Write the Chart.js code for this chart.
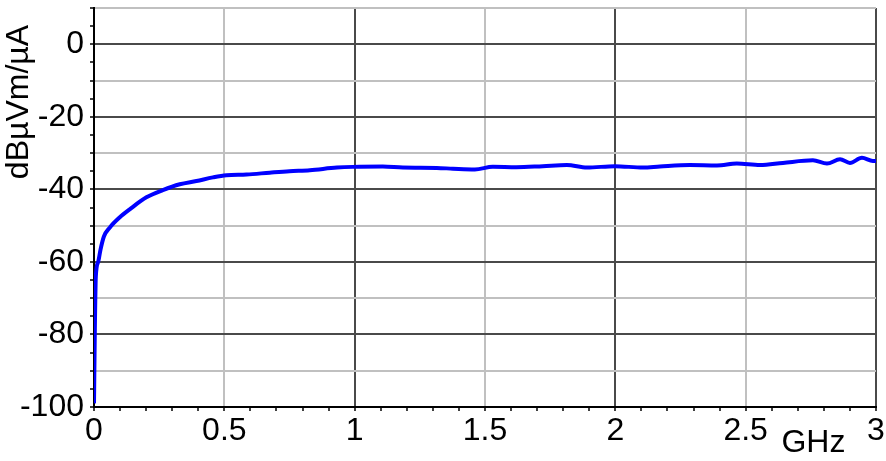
<!DOCTYPE html>
<html>
<head>
<meta charset="utf-8">
<script src="https://cdn.jsdelivr.net/npm/chart.js@4/dist/chart.umd.min.js"></script>
<style>
  html, body { margin: 0; padding: 0; background: #fff; }
  #wrap { width: 886px; height: 461px; position: relative; }
</style>
</head>
<body>
<div id="wrap"><canvas id="chart"></canvas></div>
<script>
// frequency in GHz, level in dBuV/m/uA
const freqGHz = [0, 0.003, 0.007, 0.016, 0.025, 0.038, 0.061, 0.099, 0.137, 0.201,
  0.264, 0.329, 0.393, 0.456, 0.508, 0.585, 0.674, 0.75, 0.828, 0.932,
  0.993, 1.108, 1.185, 1.315, 1.377, 1.461, 1.53, 1.62, 1.722, 1.814,
  1.891, 1.998, 2.106, 2.171, 2.286, 2.39, 2.466, 2.555, 2.643, 2.758,
  2.812, 2.862, 2.9, 2.946, 2.988, 3.0];
const levelDb = [-99, -80, -64, -60, -56.6, -53, -50.5, -47.7, -45.5, -42.2,
  -40.2, -38.6, -37.7, -36.7, -36.1, -35.9, -35.4, -35.0, -34.7, -34.0,
  -33.8, -33.7, -34.0, -34.1, -34.3, -34.5, -33.8, -33.9, -33.6, -33.3,
  -34.0, -33.6, -34.0, -33.7, -33.3, -33.4, -32.9, -33.3, -32.7, -32.0,
  -32.9, -31.7, -32.7, -31.3, -32.2, -32.2];

const xLabelEvery = 0.5;
const yLabelEvery = 20;
const yTitle = 'dBµVm/µA';
const xTitle = 'GHz';

const FONT = "'Liberation Sans', Arial, sans-serif";
const DARK = '#4a4a4a';
const LIGHT = '#c0c0c0';

function isMult(v, step) {
  const r = v / step;
  return Math.abs(r - Math.round(r)) < 1e-6;
}

const titles = {
  id: 'titles',
  afterDraw(chart) {
    const { ctx, chartArea, scales } = chart;
    ctx.save();
    ctx.fillStyle = '#000';
    ctx.font = `32px ${FONT}`;
    ctx.textAlign = 'center';
    ctx.textBaseline = 'alphabetic';
    ctx.fillText(xTitle, scales.x.getPixelForValue(2.76), chartArea.bottom + 45);
    ctx.translate(19, chartArea.top + 94);
    ctx.rotate(-Math.PI / 2);
    ctx.textBaseline = 'middle';
    ctx.fillText(yTitle, 0, 0);
    ctx.restore();
  },
};

new Chart(document.getElementById('chart').getContext('2d'), {
  type: 'line',
  data: {
    datasets: [{
      data: freqGHz.map((f, i) => ({ x: f, y: levelDb[i] })),
      borderColor: '#0000ff',
      borderWidth: 4,
      pointRadius: 0,
      cubicInterpolationMode: 'monotone',
      fill: false,
    }],
  },
  options: {
    responsive: true,
    maintainAspectRatio: false,
    animation: false,
    layout: { padding: { top: 8, right: 10, left: 0, bottom: 0 } },
    plugins: { legend: { display: false }, tooltip: { enabled: false } },
    scales: {
      x: {
        type: 'linear',
        min: 0,
        max: 3,
        afterFit(s) { s.height = 54; s.paddingLeft = 0; s.paddingRight = 0; },
        border: { color: '#000', width: 2 },
        grid: {
          lineWidth: 2,
          tickLength: 4,
          tickWidth: 1.5,
          tickColor: '#000',
          color: (c) => {
            const v = c.tick ? c.tick.value : 0;
            if (isMult(v, 1)) return DARK;
            if (isMult(v, xLabelEvery)) return LIGHT;
            return 'rgba(0,0,0,0)';
          },
        },
        ticks: {
          stepSize: 0.1,
          autoSkip: false,
          maxRotation: 0,
          padding: 1,
          color: '#000',
          font: { family: FONT, size: 32 },
          callback: (v) => (isMult(v, xLabelEvery) ? String(Math.round(v * 10) / 10) : ''),
        },
      },
      y: {
        min: -100,
        max: 10,
        afterFit(s) { s.width = 94; s.paddingTop = 0; s.paddingBottom = 0; },
        border: { color: '#000', width: 2 },
        grid: {
          lineWidth: 2,
          tickLength: 4,
          tickWidth: 1.5,
          tickColor: '#000',
          color: (c) => {
            const v = c.tick ? c.tick.value : 0;
            if (isMult(v, yLabelEvery)) return DARK;
            if (isMult(v, 10)) return LIGHT;
            return 'rgba(0,0,0,0)';
          },
        },
        ticks: {
          stepSize: 5,
          autoSkip: false,
          padding: 6,
          color: '#000',
          font: { family: FONT, size: 32 },
          callback: (v) => (isMult(v, yLabelEvery) ? String(Math.round(v)) : ''),
        },
      },
    },
  },
  plugins: [titles],
});
</script>
</body>
</html>
